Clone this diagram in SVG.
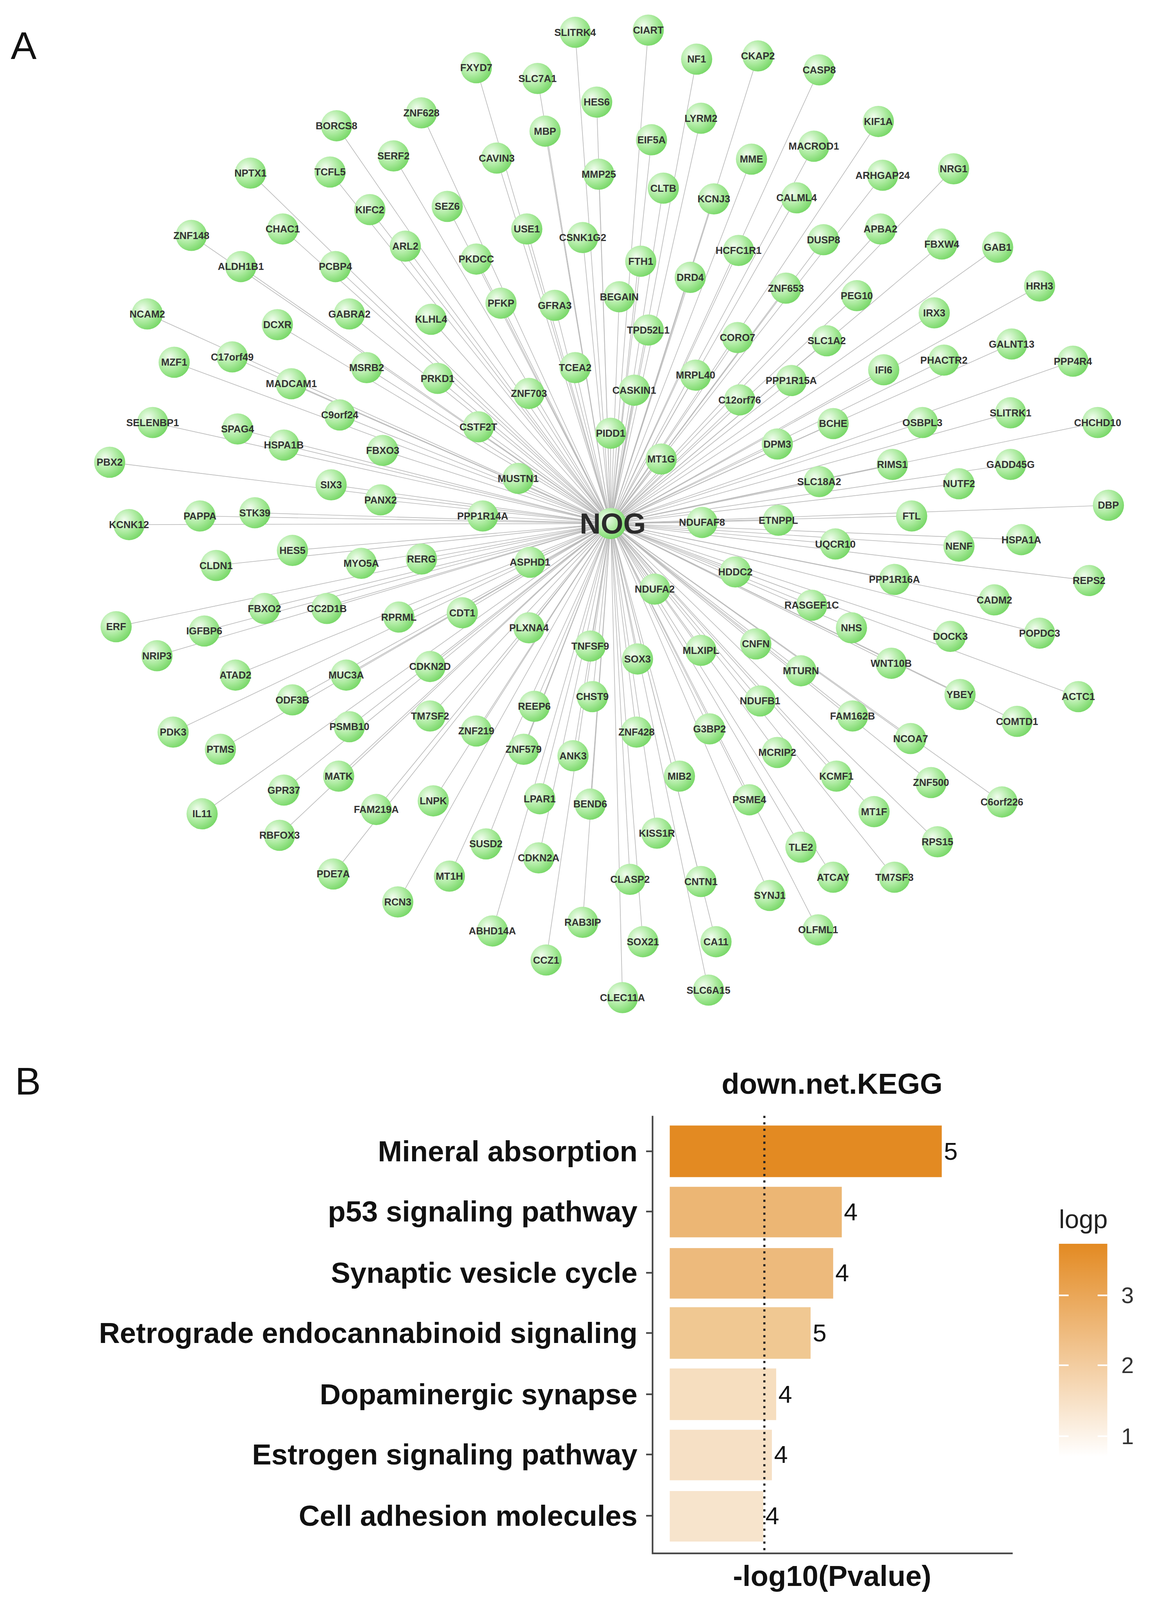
<svg xmlns="http://www.w3.org/2000/svg" xmlns:xlink="http://www.w3.org/1999/xlink" width="2972" height="4330" viewBox="0 0 2972 4330">
<defs>
<radialGradient id="gg" cx="0.35" cy="0.35" r="0.75"><stop offset="0" stop-color="#f2fdef"/><stop offset="0.55" stop-color="#a9ea9c"/><stop offset="1" stop-color="#6fd45e"/></radialGradient>
<circle id="c" r="14.5" fill="url(#gg)"/>
<linearGradient id="lg" x1="0" y1="1" x2="0" y2="0"><stop offset="0" stop-color="#ffffff"/><stop offset="1" stop-color="#E38A22"/></linearGradient>
<style>
.n text{font-family:"Liberation Sans",Arial,sans-serif;font-weight:bold;font-size:9.3px;fill:#333;text-anchor:middle;dominant-baseline:central}
#edges line{stroke:#b9b9b9;stroke-width:0.6}
.lab{font-family:"Liberation Sans",Arial,sans-serif;font-weight:bold;font-size:27px;fill:#111;text-anchor:end;dominant-baseline:central}
.num{font-family:"Liberation Sans",Arial,sans-serif;font-size:23px;fill:#111;dominant-baseline:central}
.tk{font-family:"Liberation Sans",Arial,sans-serif;font-size:21px;fill:#333;dominant-baseline:central}
</style>
</defs>
<rect width="2972" height="4330" fill="#fff"/>
<g transform="scale(2.752)">
<text x="10" y="55" font-family="Liberation Sans,Arial,sans-serif" font-size="36" fill="#111">A</text>
<text x="14" y="1018" font-family="Liberation Sans,Arial,sans-serif" font-size="36" fill="#111">B</text>
<g id="edges">
<line x1="568" y1="487" x2="535" y2="30"/><line x1="568" y1="487" x2="603" y2="28"/><line x1="568" y1="487" x2="443" y2="63"/><line x1="568" y1="487" x2="500" y2="73"/><line x1="568" y1="487" x2="648" y2="55"/><line x1="568" y1="487" x2="705" y2="52"/><line x1="568" y1="487" x2="762" y2="65"/><line x1="568" y1="487" x2="392" y2="105"/><line x1="568" y1="487" x2="555" y2="95"/><line x1="568" y1="487" x2="313" y2="117"/><line x1="568" y1="487" x2="507" y2="122"/><line x1="568" y1="487" x2="652" y2="110"/><line x1="568" y1="487" x2="817" y2="113"/><line x1="568" y1="487" x2="366" y2="145"/><line x1="568" y1="487" x2="462" y2="147"/><line x1="568" y1="487" x2="606" y2="130"/><line x1="568" y1="487" x2="757" y2="136"/><line x1="568" y1="487" x2="233" y2="161"/><line x1="568" y1="487" x2="307" y2="160"/><line x1="568" y1="487" x2="557" y2="162"/><line x1="568" y1="487" x2="699" y2="148"/><line x1="568" y1="487" x2="617" y2="175"/><line x1="568" y1="487" x2="821" y2="163"/><line x1="568" y1="487" x2="887" y2="157"/><line x1="568" y1="487" x2="664" y2="185"/><line x1="568" y1="487" x2="741" y2="184"/><line x1="568" y1="487" x2="344" y2="195"/><line x1="568" y1="487" x2="416" y2="192"/><line x1="568" y1="487" x2="178" y2="219"/><line x1="568" y1="487" x2="263" y2="213"/><line x1="568" y1="487" x2="490" y2="213"/><line x1="568" y1="487" x2="542" y2="221"/><line x1="568" y1="487" x2="766" y2="223"/><line x1="568" y1="487" x2="819" y2="213"/><line x1="568" y1="487" x2="876" y2="227"/><line x1="568" y1="487" x2="928" y2="230"/><line x1="568" y1="487" x2="224" y2="248"/><line x1="568" y1="487" x2="312" y2="248"/><line x1="568" y1="487" x2="377" y2="229"/><line x1="568" y1="487" x2="443" y2="241"/><line x1="568" y1="487" x2="596" y2="243"/><line x1="568" y1="487" x2="687" y2="233"/><line x1="568" y1="487" x2="642" y2="258"/><line x1="568" y1="487" x2="731" y2="268"/><line x1="568" y1="487" x2="797" y2="275"/><line x1="568" y1="487" x2="967" y2="266"/><line x1="568" y1="487" x2="137" y2="292"/><line x1="568" y1="487" x2="325" y2="292"/><line x1="568" y1="487" x2="258" y2="302"/><line x1="568" y1="487" x2="401" y2="297"/><line x1="568" y1="487" x2="466" y2="282"/><line x1="568" y1="487" x2="516" y2="284"/><line x1="568" y1="487" x2="576" y2="276"/><line x1="568" y1="487" x2="869" y2="291"/><line x1="568" y1="487" x2="941" y2="320"/><line x1="568" y1="487" x2="603" y2="307"/><line x1="568" y1="487" x2="686" y2="314"/><line x1="568" y1="487" x2="769" y2="317"/><line x1="568" y1="487" x2="162" y2="337"/><line x1="568" y1="487" x2="216" y2="332"/><line x1="568" y1="487" x2="998" y2="336"/><line x1="568" y1="487" x2="341" y2="342"/><line x1="568" y1="487" x2="535" y2="342"/><line x1="568" y1="487" x2="878" y2="335"/><line x1="568" y1="487" x2="822" y2="344"/><line x1="568" y1="487" x2="271" y2="357"/><line x1="568" y1="487" x2="407" y2="352"/><line x1="568" y1="487" x2="647" y2="349"/><line x1="568" y1="487" x2="590" y2="363"/><line x1="568" y1="487" x2="492" y2="366"/><line x1="568" y1="487" x2="736" y2="354"/><line x1="568" y1="487" x2="688" y2="372"/><line x1="568" y1="487" x2="316" y2="386"/><line x1="568" y1="487" x2="142" y2="393"/><line x1="568" y1="487" x2="221" y2="399"/><line x1="568" y1="487" x2="445" y2="397"/><line x1="568" y1="487" x2="568" y2="403"/><line x1="568" y1="487" x2="775" y2="394"/><line x1="568" y1="487" x2="858" y2="393"/><line x1="568" y1="487" x2="940" y2="384"/><line x1="568" y1="487" x2="1021" y2="393"/><line x1="568" y1="487" x2="264" y2="414"/><line x1="568" y1="487" x2="356" y2="419"/><line x1="568" y1="487" x2="723" y2="413"/><line x1="568" y1="487" x2="615" y2="427"/><line x1="568" y1="487" x2="830" y2="432"/><line x1="568" y1="487" x2="940" y2="432"/><line x1="568" y1="487" x2="102" y2="430"/><line x1="568" y1="487" x2="308" y2="451"/><line x1="568" y1="487" x2="482" y2="445"/><line x1="568" y1="487" x2="762" y2="448"/><line x1="568" y1="487" x2="892" y2="450"/><line x1="568" y1="487" x2="354" y2="465"/><line x1="568" y1="487" x2="186" y2="480"/><line x1="568" y1="487" x2="237" y2="477"/><line x1="568" y1="487" x2="449" y2="480"/><line x1="568" y1="487" x2="653" y2="486"/><line x1="568" y1="487" x2="724" y2="484"/><line x1="568" y1="487" x2="848" y2="480"/><line x1="568" y1="487" x2="1031" y2="470"/><line x1="568" y1="487" x2="120" y2="488"/><line x1="568" y1="487" x2="892" y2="508"/><line x1="568" y1="487" x2="950" y2="502"/><line x1="568" y1="487" x2="777" y2="506"/><line x1="568" y1="487" x2="272" y2="512"/><line x1="568" y1="487" x2="336" y2="524"/><line x1="568" y1="487" x2="392" y2="520"/><line x1="568" y1="487" x2="493" y2="523"/><line x1="568" y1="487" x2="201" y2="526"/><line x1="568" y1="487" x2="684" y2="532"/><line x1="568" y1="487" x2="832" y2="539"/><line x1="568" y1="487" x2="1013" y2="540"/><line x1="568" y1="487" x2="609" y2="548"/><line x1="568" y1="487" x2="925" y2="558"/><line x1="568" y1="487" x2="246" y2="566"/><line x1="568" y1="487" x2="304" y2="566"/><line x1="568" y1="487" x2="371" y2="574"/><line x1="568" y1="487" x2="430" y2="570"/><line x1="568" y1="487" x2="755" y2="563"/><line x1="568" y1="487" x2="108" y2="583"/><line x1="568" y1="487" x2="190" y2="587"/><line x1="568" y1="487" x2="492" y2="584"/><line x1="568" y1="487" x2="792" y2="584"/><line x1="568" y1="487" x2="884" y2="592"/><line x1="568" y1="487" x2="967" y2="589"/><line x1="568" y1="487" x2="146" y2="610"/><line x1="568" y1="487" x2="549" y2="601"/><line x1="568" y1="487" x2="593" y2="613"/><line x1="568" y1="487" x2="652" y2="605"/><line x1="568" y1="487" x2="703" y2="599"/><line x1="568" y1="487" x2="745" y2="624"/><line x1="568" y1="487" x2="829" y2="617"/><line x1="568" y1="487" x2="219" y2="628"/><line x1="568" y1="487" x2="322" y2="628"/><line x1="568" y1="487" x2="400" y2="620"/><line x1="568" y1="487" x2="893" y2="646"/><line x1="568" y1="487" x2="1003" y2="648"/><line x1="568" y1="487" x2="272" y2="651"/><line x1="568" y1="487" x2="551" y2="648"/><line x1="568" y1="487" x2="497" y2="657"/><line x1="568" y1="487" x2="707" y2="652"/><line x1="568" y1="487" x2="793" y2="666"/><line x1="568" y1="487" x2="946" y2="671"/><line x1="568" y1="487" x2="400" y2="666"/><line x1="568" y1="487" x2="161" y2="681"/><line x1="568" y1="487" x2="325" y2="676"/><line x1="568" y1="487" x2="443" y2="680"/><line x1="568" y1="487" x2="592" y2="681"/><line x1="568" y1="487" x2="660" y2="678"/><line x1="568" y1="487" x2="847" y2="687"/><line x1="568" y1="487" x2="205" y2="697"/><line x1="568" y1="487" x2="533" y2="703"/><line x1="568" y1="487" x2="487" y2="697"/><line x1="568" y1="487" x2="723" y2="700"/><line x1="568" y1="487" x2="315" y2="722"/><line x1="568" y1="487" x2="866" y2="728"/><line x1="568" y1="487" x2="778" y2="722"/><line x1="568" y1="487" x2="932" y2="746"/><line x1="568" y1="487" x2="264" y2="735"/><line x1="568" y1="487" x2="632" y2="722"/><line x1="568" y1="487" x2="188" y2="757"/><line x1="568" y1="487" x2="350" y2="753"/><line x1="568" y1="487" x2="403" y2="745"/><line x1="568" y1="487" x2="502" y2="743"/><line x1="568" y1="487" x2="549" y2="748"/><line x1="568" y1="487" x2="697" y2="744"/><line x1="568" y1="487" x2="813" y2="755"/><line x1="568" y1="487" x2="260" y2="777"/><line x1="568" y1="487" x2="611" y2="775"/><line x1="568" y1="487" x2="872" y2="783"/><line x1="568" y1="487" x2="452" y2="785"/><line x1="568" y1="487" x2="745" y2="788"/><line x1="568" y1="487" x2="501" y2="798"/><line x1="568" y1="487" x2="310" y2="813"/><line x1="568" y1="487" x2="418" y2="815"/><line x1="568" y1="487" x2="775" y2="816"/><line x1="568" y1="487" x2="832" y2="816"/><line x1="568" y1="487" x2="586" y2="818"/><line x1="568" y1="487" x2="652" y2="820"/><line x1="568" y1="487" x2="370" y2="839"/><line x1="568" y1="487" x2="716" y2="833"/><line x1="568" y1="487" x2="458" y2="866"/><line x1="568" y1="487" x2="542" y2="858"/><line x1="568" y1="487" x2="761" y2="865"/><line x1="568" y1="487" x2="598" y2="876"/><line x1="568" y1="487" x2="666" y2="876"/><line x1="568" y1="487" x2="508" y2="893"/><line x1="568" y1="487" x2="659" y2="921"/><line x1="568" y1="487" x2="579" y2="928"/>
</g>
<g class="n">
<g id="n-SLITRK4"><use href="#c" x="535" y="30"/><text x="535" y="30">SLITRK4</text></g>
<g id="n-CIART"><use href="#c" x="603" y="28"/><text x="603" y="28">CIART</text></g>
<g id="n-FXYD7"><use href="#c" x="443" y="63"/><text x="443" y="63">FXYD7</text></g>
<g id="n-SLC7A1"><use href="#c" x="500" y="73"/><text x="500" y="73">SLC7A1</text></g>
<g id="n-NF1"><use href="#c" x="648" y="55"/><text x="648" y="55">NF1</text></g>
<g id="n-CKAP2"><use href="#c" x="705" y="52"/><text x="705" y="52">CKAP2</text></g>
<g id="n-CASP8"><use href="#c" x="762" y="65"/><text x="762" y="65">CASP8</text></g>
<g id="n-ZNF628"><use href="#c" x="392" y="105"/><text x="392" y="105">ZNF628</text></g>
<g id="n-HES6"><use href="#c" x="555" y="95"/><text x="555" y="95">HES6</text></g>
<g id="n-BORCS8"><use href="#c" x="313" y="117"/><text x="313" y="117">BORCS8</text></g>
<g id="n-MBP"><use href="#c" x="507" y="122"/><text x="507" y="122">MBP</text></g>
<g id="n-LYRM2"><use href="#c" x="652" y="110"/><text x="652" y="110">LYRM2</text></g>
<g id="n-KIF1A"><use href="#c" x="817" y="113"/><text x="817" y="113">KIF1A</text></g>
<g id="n-SERF2"><use href="#c" x="366" y="145"/><text x="366" y="145">SERF2</text></g>
<g id="n-CAVIN3"><use href="#c" x="462" y="147"/><text x="462" y="147">CAVIN3</text></g>
<g id="n-EIF5A"><use href="#c" x="606" y="130"/><text x="606" y="130">EIF5A</text></g>
<g id="n-MACROD1"><use href="#c" x="757" y="136"/><text x="757" y="136">MACROD1</text></g>
<g id="n-NPTX1"><use href="#c" x="233" y="161"/><text x="233" y="161">NPTX1</text></g>
<g id="n-TCFL5"><use href="#c" x="307" y="160"/><text x="307" y="160">TCFL5</text></g>
<g id="n-MMP25"><use href="#c" x="557" y="162"/><text x="557" y="162">MMP25</text></g>
<g id="n-MME"><use href="#c" x="699" y="148"/><text x="699" y="148">MME</text></g>
<g id="n-CLTB"><use href="#c" x="617" y="175"/><text x="617" y="175">CLTB</text></g>
<g id="n-ARHGAP24"><use href="#c" x="821" y="163"/><text x="821" y="163">ARHGAP24</text></g>
<g id="n-NRG1"><use href="#c" x="887" y="157"/><text x="887" y="157">NRG1</text></g>
<g id="n-KCNJ3"><use href="#c" x="664" y="185"/><text x="664" y="185">KCNJ3</text></g>
<g id="n-CALML4"><use href="#c" x="741" y="184"/><text x="741" y="184">CALML4</text></g>
<g id="n-KIFC2"><use href="#c" x="344" y="195"/><text x="344" y="195">KIFC2</text></g>
<g id="n-SEZ6"><use href="#c" x="416" y="192"/><text x="416" y="192">SEZ6</text></g>
<g id="n-ZNF148"><use href="#c" x="178" y="219"/><text x="178" y="219">ZNF148</text></g>
<g id="n-CHAC1"><use href="#c" x="263" y="213"/><text x="263" y="213">CHAC1</text></g>
<g id="n-USE1"><use href="#c" x="490" y="213"/><text x="490" y="213">USE1</text></g>
<g id="n-CSNK1G2"><use href="#c" x="542" y="221"/><text x="542" y="221">CSNK1G2</text></g>
<g id="n-DUSP8"><use href="#c" x="766" y="223"/><text x="766" y="223">DUSP8</text></g>
<g id="n-APBA2"><use href="#c" x="819" y="213"/><text x="819" y="213">APBA2</text></g>
<g id="n-FBXW4"><use href="#c" x="876" y="227"/><text x="876" y="227">FBXW4</text></g>
<g id="n-GAB1"><use href="#c" x="928" y="230"/><text x="928" y="230">GAB1</text></g>
<g id="n-ALDH1B1"><use href="#c" x="224" y="248"/><text x="224" y="248">ALDH1B1</text></g>
<g id="n-PCBP4"><use href="#c" x="312" y="248"/><text x="312" y="248">PCBP4</text></g>
<g id="n-ARL2"><use href="#c" x="377" y="229"/><text x="377" y="229">ARL2</text></g>
<g id="n-PKDCC"><use href="#c" x="443" y="241"/><text x="443" y="241">PKDCC</text></g>
<g id="n-FTH1"><use href="#c" x="596" y="243"/><text x="596" y="243">FTH1</text></g>
<g id="n-HCFC1R1"><use href="#c" x="687" y="233"/><text x="687" y="233">HCFC1R1</text></g>
<g id="n-DRD4"><use href="#c" x="642" y="258"/><text x="642" y="258">DRD4</text></g>
<g id="n-ZNF653"><use href="#c" x="731" y="268"/><text x="731" y="268">ZNF653</text></g>
<g id="n-PEG10"><use href="#c" x="797" y="275"/><text x="797" y="275">PEG10</text></g>
<g id="n-HRH3"><use href="#c" x="967" y="266"/><text x="967" y="266">HRH3</text></g>
<g id="n-NCAM2"><use href="#c" x="137" y="292"/><text x="137" y="292">NCAM2</text></g>
<g id="n-GABRA2"><use href="#c" x="325" y="292"/><text x="325" y="292">GABRA2</text></g>
<g id="n-DCXR"><use href="#c" x="258" y="302"/><text x="258" y="302">DCXR</text></g>
<g id="n-KLHL4"><use href="#c" x="401" y="297"/><text x="401" y="297">KLHL4</text></g>
<g id="n-PFKP"><use href="#c" x="466" y="282"/><text x="466" y="282">PFKP</text></g>
<g id="n-GFRA3"><use href="#c" x="516" y="284"/><text x="516" y="284">GFRA3</text></g>
<g id="n-BEGAIN"><use href="#c" x="576" y="276"/><text x="576" y="276">BEGAIN</text></g>
<g id="n-IRX3"><use href="#c" x="869" y="291"/><text x="869" y="291">IRX3</text></g>
<g id="n-GALNT13"><use href="#c" x="941" y="320"/><text x="941" y="320">GALNT13</text></g>
<g id="n-TPD52L1"><use href="#c" x="603" y="307"/><text x="603" y="307">TPD52L1</text></g>
<g id="n-CORO7"><use href="#c" x="686" y="314"/><text x="686" y="314">CORO7</text></g>
<g id="n-SLC1A2"><use href="#c" x="769" y="317"/><text x="769" y="317">SLC1A2</text></g>
<g id="n-MZF1"><use href="#c" x="162" y="337"/><text x="162" y="337">MZF1</text></g>
<g id="n-C17orf49"><use href="#c" x="216" y="332"/><text x="216" y="332">C17orf49</text></g>
<g id="n-PPP4R4"><use href="#c" x="998" y="336"/><text x="998" y="336">PPP4R4</text></g>
<g id="n-MSRB2"><use href="#c" x="341" y="342"/><text x="341" y="342">MSRB2</text></g>
<g id="n-TCEA2"><use href="#c" x="535" y="342"/><text x="535" y="342">TCEA2</text></g>
<g id="n-PHACTR2"><use href="#c" x="878" y="335"/><text x="878" y="335">PHACTR2</text></g>
<g id="n-IFI6"><use href="#c" x="822" y="344"/><text x="822" y="344">IFI6</text></g>
<g id="n-MADCAM1"><use href="#c" x="271" y="357"/><text x="271" y="357">MADCAM1</text></g>
<g id="n-PRKD1"><use href="#c" x="407" y="352"/><text x="407" y="352">PRKD1</text></g>
<g id="n-MRPL40"><use href="#c" x="647" y="349"/><text x="647" y="349">MRPL40</text></g>
<g id="n-CASKIN1"><use href="#c" x="590" y="363"/><text x="590" y="363">CASKIN1</text></g>
<g id="n-ZNF703"><use href="#c" x="492" y="366"/><text x="492" y="366">ZNF703</text></g>
<g id="n-PPP1R15A"><use href="#c" x="736" y="354"/><text x="736" y="354">PPP1R15A</text></g>
<g id="n-C12orf76"><use href="#c" x="688" y="372"/><text x="688" y="372">C12orf76</text></g>
<g id="n-C9orf24"><use href="#c" x="316" y="386"/><text x="316" y="386">C9orf24</text></g>
<g id="n-SELENBP1"><use href="#c" x="142" y="393"/><text x="142" y="393">SELENBP1</text></g>
<g id="n-SPAG4"><use href="#c" x="221" y="399"/><text x="221" y="399">SPAG4</text></g>
<g id="n-CSTF2T"><use href="#c" x="445" y="397"/><text x="445" y="397">CSTF2T</text></g>
<g id="n-PIDD1"><use href="#c" x="568" y="403"/><text x="568" y="403">PIDD1</text></g>
<g id="n-BCHE"><use href="#c" x="775" y="394"/><text x="775" y="394">BCHE</text></g>
<g id="n-OSBPL3"><use href="#c" x="858" y="393"/><text x="858" y="393">OSBPL3</text></g>
<g id="n-SLITRK1"><use href="#c" x="940" y="384"/><text x="940" y="384">SLITRK1</text></g>
<g id="n-CHCHD10"><use href="#c" x="1021" y="393"/><text x="1021" y="393">CHCHD10</text></g>
<g id="n-HSPA1B"><use href="#c" x="264" y="414"/><text x="264" y="414">HSPA1B</text></g>
<g id="n-FBXO3"><use href="#c" x="356" y="419"/><text x="356" y="419">FBXO3</text></g>
<g id="n-DPM3"><use href="#c" x="723" y="413"/><text x="723" y="413">DPM3</text></g>
<g id="n-MT1G"><use href="#c" x="615" y="427"/><text x="615" y="427">MT1G</text></g>
<g id="n-RIMS1"><use href="#c" x="830" y="432"/><text x="830" y="432">RIMS1</text></g>
<g id="n-GADD45G"><use href="#c" x="940" y="432"/><text x="940" y="432">GADD45G</text></g>
<g id="n-PBX2"><use href="#c" x="102" y="430"/><text x="102" y="430">PBX2</text></g>
<g id="n-SIX3"><use href="#c" x="308" y="451"/><text x="308" y="451">SIX3</text></g>
<g id="n-MUSTN1"><use href="#c" x="482" y="445"/><text x="482" y="445">MUSTN1</text></g>
<g id="n-SLC18A2"><use href="#c" x="762" y="448"/><text x="762" y="448">SLC18A2</text></g>
<g id="n-NUTF2"><use href="#c" x="892" y="450"/><text x="892" y="450">NUTF2</text></g>
<g id="n-PANX2"><use href="#c" x="354" y="465"/><text x="354" y="465">PANX2</text></g>
<g id="n-PAPPA"><use href="#c" x="186" y="480"/><text x="186" y="480">PAPPA</text></g>
<g id="n-STK39"><use href="#c" x="237" y="477"/><text x="237" y="477">STK39</text></g>
<g id="n-PPP1R14A"><use href="#c" x="449" y="480"/><text x="449" y="480">PPP1R14A</text></g>
<g id="n-NDUFAF8"><use href="#c" x="653" y="486"/><text x="653" y="486">NDUFAF8</text></g>
<g id="n-ETNPPL"><use href="#c" x="724" y="484"/><text x="724" y="484">ETNPPL</text></g>
<g id="n-FTL"><use href="#c" x="848" y="480"/><text x="848" y="480">FTL</text></g>
<g id="n-DBP"><use href="#c" x="1031" y="470"/><text x="1031" y="470">DBP</text></g>
<g id="n-KCNK12"><use href="#c" x="120" y="488"/><text x="120" y="488">KCNK12</text></g>
<g id="n-NENF"><use href="#c" x="892" y="508"/><text x="892" y="508">NENF</text></g>
<g id="n-HSPA1A"><use href="#c" x="950" y="502"/><text x="950" y="502">HSPA1A</text></g>
<g id="n-UQCR10"><use href="#c" x="777" y="506"/><text x="777" y="506">UQCR10</text></g>
<g id="n-HES5"><use href="#c" x="272" y="512"/><text x="272" y="512">HES5</text></g>
<g id="n-MYO5A"><use href="#c" x="336" y="524"/><text x="336" y="524">MYO5A</text></g>
<g id="n-RERG"><use href="#c" x="392" y="520"/><text x="392" y="520">RERG</text></g>
<g id="n-ASPHD1"><use href="#c" x="493" y="523"/><text x="493" y="523">ASPHD1</text></g>
<g id="n-CLDN1"><use href="#c" x="201" y="526"/><text x="201" y="526">CLDN1</text></g>
<g id="n-HDDC2"><use href="#c" x="684" y="532"/><text x="684" y="532">HDDC2</text></g>
<g id="n-PPP1R16A"><use href="#c" x="832" y="539"/><text x="832" y="539">PPP1R16A</text></g>
<g id="n-REPS2"><use href="#c" x="1013" y="540"/><text x="1013" y="540">REPS2</text></g>
<g id="n-NDUFA2"><use href="#c" x="609" y="548"/><text x="609" y="548">NDUFA2</text></g>
<g id="n-CADM2"><use href="#c" x="925" y="558"/><text x="925" y="558">CADM2</text></g>
<g id="n-FBXO2"><use href="#c" x="246" y="566"/><text x="246" y="566">FBXO2</text></g>
<g id="n-CC2D1B"><use href="#c" x="304" y="566"/><text x="304" y="566">CC2D1B</text></g>
<g id="n-RPRML"><use href="#c" x="371" y="574"/><text x="371" y="574">RPRML</text></g>
<g id="n-CDT1"><use href="#c" x="430" y="570"/><text x="430" y="570">CDT1</text></g>
<g id="n-RASGEF1C"><use href="#c" x="755" y="563"/><text x="755" y="563">RASGEF1C</text></g>
<g id="n-ERF"><use href="#c" x="108" y="583"/><text x="108" y="583">ERF</text></g>
<g id="n-IGFBP6"><use href="#c" x="190" y="587"/><text x="190" y="587">IGFBP6</text></g>
<g id="n-PLXNA4"><use href="#c" x="492" y="584"/><text x="492" y="584">PLXNA4</text></g>
<g id="n-NHS"><use href="#c" x="792" y="584"/><text x="792" y="584">NHS</text></g>
<g id="n-DOCK3"><use href="#c" x="884" y="592"/><text x="884" y="592">DOCK3</text></g>
<g id="n-POPDC3"><use href="#c" x="967" y="589"/><text x="967" y="589">POPDC3</text></g>
<g id="n-NRIP3"><use href="#c" x="146" y="610"/><text x="146" y="610">NRIP3</text></g>
<g id="n-TNFSF9"><use href="#c" x="549" y="601"/><text x="549" y="601">TNFSF9</text></g>
<g id="n-SOX3"><use href="#c" x="593" y="613"/><text x="593" y="613">SOX3</text></g>
<g id="n-MLXIPL"><use href="#c" x="652" y="605"/><text x="652" y="605">MLXIPL</text></g>
<g id="n-CNFN"><use href="#c" x="703" y="599"/><text x="703" y="599">CNFN</text></g>
<g id="n-MTURN"><use href="#c" x="745" y="624"/><text x="745" y="624">MTURN</text></g>
<g id="n-WNT10B"><use href="#c" x="829" y="617"/><text x="829" y="617">WNT10B</text></g>
<g id="n-ATAD2"><use href="#c" x="219" y="628"/><text x="219" y="628">ATAD2</text></g>
<g id="n-MUC3A"><use href="#c" x="322" y="628"/><text x="322" y="628">MUC3A</text></g>
<g id="n-CDKN2D"><use href="#c" x="400" y="620"/><text x="400" y="620">CDKN2D</text></g>
<g id="n-YBEY"><use href="#c" x="893" y="646"/><text x="893" y="646">YBEY</text></g>
<g id="n-ACTC1"><use href="#c" x="1003" y="648"/><text x="1003" y="648">ACTC1</text></g>
<g id="n-ODF3B"><use href="#c" x="272" y="651"/><text x="272" y="651">ODF3B</text></g>
<g id="n-CHST9"><use href="#c" x="551" y="648"/><text x="551" y="648">CHST9</text></g>
<g id="n-REEP6"><use href="#c" x="497" y="657"/><text x="497" y="657">REEP6</text></g>
<g id="n-NDUFB1"><use href="#c" x="707" y="652"/><text x="707" y="652">NDUFB1</text></g>
<g id="n-FAM162B"><use href="#c" x="793" y="666"/><text x="793" y="666">FAM162B</text></g>
<g id="n-COMTD1"><use href="#c" x="946" y="671"/><text x="946" y="671">COMTD1</text></g>
<g id="n-TM7SF2"><use href="#c" x="400" y="666"/><text x="400" y="666">TM7SF2</text></g>
<g id="n-PDK3"><use href="#c" x="161" y="681"/><text x="161" y="681">PDK3</text></g>
<g id="n-PSMB10"><use href="#c" x="325" y="676"/><text x="325" y="676">PSMB10</text></g>
<g id="n-ZNF219"><use href="#c" x="443" y="680"/><text x="443" y="680">ZNF219</text></g>
<g id="n-ZNF428"><use href="#c" x="592" y="681"/><text x="592" y="681">ZNF428</text></g>
<g id="n-G3BP2"><use href="#c" x="660" y="678"/><text x="660" y="678">G3BP2</text></g>
<g id="n-NCOA7"><use href="#c" x="847" y="687"/><text x="847" y="687">NCOA7</text></g>
<g id="n-PTMS"><use href="#c" x="205" y="697"/><text x="205" y="697">PTMS</text></g>
<g id="n-ANK3"><use href="#c" x="533" y="703"/><text x="533" y="703">ANK3</text></g>
<g id="n-ZNF579"><use href="#c" x="487" y="697"/><text x="487" y="697">ZNF579</text></g>
<g id="n-MCRIP2"><use href="#c" x="723" y="700"/><text x="723" y="700">MCRIP2</text></g>
<g id="n-MATK"><use href="#c" x="315" y="722"/><text x="315" y="722">MATK</text></g>
<g id="n-ZNF500"><use href="#c" x="866" y="728"/><text x="866" y="728">ZNF500</text></g>
<g id="n-KCMF1"><use href="#c" x="778" y="722"/><text x="778" y="722">KCMF1</text></g>
<g id="n-C6orf226"><use href="#c" x="932" y="746"/><text x="932" y="746">C6orf226</text></g>
<g id="n-GPR37"><use href="#c" x="264" y="735"/><text x="264" y="735">GPR37</text></g>
<g id="n-MIB2"><use href="#c" x="632" y="722"/><text x="632" y="722">MIB2</text></g>
<g id="n-IL11"><use href="#c" x="188" y="757"/><text x="188" y="757">IL11</text></g>
<g id="n-FAM219A"><use href="#c" x="350" y="753"/><text x="350" y="753">FAM219A</text></g>
<g id="n-LNPK"><use href="#c" x="403" y="745"/><text x="403" y="745">LNPK</text></g>
<g id="n-LPAR1"><use href="#c" x="502" y="743"/><text x="502" y="743">LPAR1</text></g>
<g id="n-BEND6"><use href="#c" x="549" y="748"/><text x="549" y="748">BEND6</text></g>
<g id="n-PSME4"><use href="#c" x="697" y="744"/><text x="697" y="744">PSME4</text></g>
<g id="n-MT1F"><use href="#c" x="813" y="755"/><text x="813" y="755">MT1F</text></g>
<g id="n-RBFOX3"><use href="#c" x="260" y="777"/><text x="260" y="777">RBFOX3</text></g>
<g id="n-KISS1R"><use href="#c" x="611" y="775"/><text x="611" y="775">KISS1R</text></g>
<g id="n-RPS15"><use href="#c" x="872" y="783"/><text x="872" y="783">RPS15</text></g>
<g id="n-SUSD2"><use href="#c" x="452" y="785"/><text x="452" y="785">SUSD2</text></g>
<g id="n-TLE2"><use href="#c" x="745" y="788"/><text x="745" y="788">TLE2</text></g>
<g id="n-CDKN2A"><use href="#c" x="501" y="798"/><text x="501" y="798">CDKN2A</text></g>
<g id="n-PDE7A"><use href="#c" x="310" y="813"/><text x="310" y="813">PDE7A</text></g>
<g id="n-MT1H"><use href="#c" x="418" y="815"/><text x="418" y="815">MT1H</text></g>
<g id="n-ATCAY"><use href="#c" x="775" y="816"/><text x="775" y="816">ATCAY</text></g>
<g id="n-TM7SF3"><use href="#c" x="832" y="816"/><text x="832" y="816">TM7SF3</text></g>
<g id="n-CLASP2"><use href="#c" x="586" y="818"/><text x="586" y="818">CLASP2</text></g>
<g id="n-CNTN1"><use href="#c" x="652" y="820"/><text x="652" y="820">CNTN1</text></g>
<g id="n-RCN3"><use href="#c" x="370" y="839"/><text x="370" y="839">RCN3</text></g>
<g id="n-SYNJ1"><use href="#c" x="716" y="833"/><text x="716" y="833">SYNJ1</text></g>
<g id="n-ABHD14A"><use href="#c" x="458" y="866"/><text x="458" y="866">ABHD14A</text></g>
<g id="n-RAB3IP"><use href="#c" x="542" y="858"/><text x="542" y="858">RAB3IP</text></g>
<g id="n-OLFML1"><use href="#c" x="761" y="865"/><text x="761" y="865">OLFML1</text></g>
<g id="n-SOX21"><use href="#c" x="598" y="876"/><text x="598" y="876">SOX21</text></g>
<g id="n-CA11"><use href="#c" x="666" y="876"/><text x="666" y="876">CA11</text></g>
<g id="n-CCZ1"><use href="#c" x="508" y="893"/><text x="508" y="893">CCZ1</text></g>
<g id="n-SLC6A15"><use href="#c" x="659" y="921"/><text x="659" y="921">SLC6A15</text></g>
<g id="n-CLEC11A"><use href="#c" x="579" y="928"/><text x="579" y="928">CLEC11A</text></g>
<g id="n-NOG"><use href="#c" x="568" y="487"/><text x="570" y="487" style="font-size:27px;fill:#2b2b2b">NOG</text></g>
</g>
<g id="chart">
<text x="774" y="1008" font-family="Liberation Sans,Arial,sans-serif" font-weight="bold" font-size="27" text-anchor="middle" dominant-baseline="central" fill="#111">down.net.KEGG</text>
<rect x="623" y="1047" width="253" height="48" fill="#E38A22"/>
<rect x="623" y="1104" width="160" height="47" fill="#ECB674"/>
<rect x="623" y="1161" width="152" height="47" fill="#EDBA7C"/>
<rect x="623" y="1216" width="131" height="48" fill="#F0C892"/>
<rect x="623" y="1273" width="99" height="48" fill="#F6DEBF"/>
<rect x="623" y="1330" width="95" height="47" fill="#F6E0C5"/>
<rect x="623" y="1387" width="87" height="47" fill="#F7E4CC"/>
<line x1="711" y1="1038" x2="711" y2="1445" stroke="#222" stroke-width="2" stroke-dasharray="2,4"/>
<path d="M607 1038V1445H942" fill="none" stroke="#444" stroke-width="1.5"/>
<g stroke="#444" stroke-width="1.5"><line x1="601" y1="1071" x2="607" y2="1071"/><line x1="601" y1="1127" x2="607" y2="1127"/><line x1="601" y1="1184" x2="607" y2="1184"/><line x1="601" y1="1240" x2="607" y2="1240"/><line x1="601" y1="1297" x2="607" y2="1297"/><line x1="601" y1="1353" x2="607" y2="1353"/><line x1="601" y1="1410" x2="607" y2="1410"/></g>
<text class="lab" x="593" y="1071">Mineral absorption</text>
<text class="lab" x="593" y="1127">p53 signaling pathway</text>
<text class="lab" x="593" y="1184">Synaptic vesicle cycle</text>
<text class="lab" x="593" y="1240">Retrograde endocannabinoid signaling</text>
<text class="lab" x="593" y="1297">Dopaminergic synapse</text>
<text class="lab" x="593" y="1353">Estrogen signaling pathway</text>
<text class="lab" x="593" y="1410">Cell adhesion molecules</text>
<text class="num" x="878" y="1071">5</text>
<text class="num" x="785" y="1127">4</text>
<text class="num" x="777" y="1184">4</text>
<text class="num" x="756" y="1240">5</text>
<text class="num" x="724" y="1297">4</text>
<text class="num" x="720" y="1353">4</text>
<text class="num" x="712" y="1410">4</text>
<text x="774" y="1466" font-family="Liberation Sans,Arial,sans-serif" font-weight="bold" font-size="27" text-anchor="middle" dominant-baseline="central" fill="#111">-log10(Pvalue)</text>
<text x="985" y="1134" font-family="Liberation Sans,Arial,sans-serif" font-size="24" dominant-baseline="central" fill="#222">logp</text>
<rect x="985" y="1157" width="45" height="198" fill="url(#lg)"/>
<g stroke="#fff" stroke-width="1.5"><line x1="985" y1="1205" x2="994" y2="1205"/><line x1="1021" y1="1205" x2="1030" y2="1205"/><line x1="985" y1="1270" x2="994" y2="1270"/><line x1="1021" y1="1270" x2="1030" y2="1270"/><line x1="985" y1="1336" x2="994" y2="1336"/><line x1="1021" y1="1336" x2="1030" y2="1336"/></g>
<text class="tk" x="1043" y="1205">3</text>
<text class="tk" x="1043" y="1270">2</text>
<text class="tk" x="1043" y="1336">1</text>
</g>
</g>
</svg>
